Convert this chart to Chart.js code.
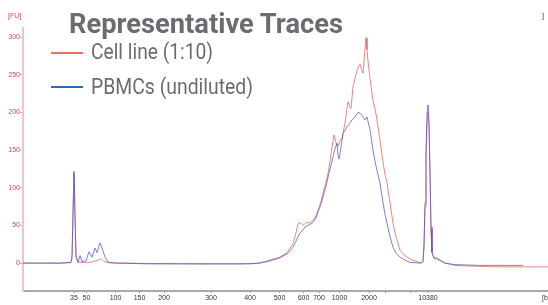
<!DOCTYPE html>
<html>
<head>
<meta charset="utf-8">
<script src="https://cdn.jsdelivr.net/npm/chart.js@4/dist/chart.umd.min.js"></script>
<style>
  html, body { margin: 0; padding: 0; background: #fff; overflow: hidden; }
  #wrap { position: relative; width: 548px; height: 305px; overflow: hidden; }
  canvas { position: absolute; left: 0; top: 0; }
  .t { position: absolute; white-space: nowrap; line-height: 1; transform-origin: 0 0; }
  .title { font-family: Roboto, "Open Sans", sans-serif; font-weight: 700; font-size: 28px; color: #6b6c70; left: 69px; top: 9.7px; }
  .leg { font-family: Roboto, "Open Sans", sans-serif; font-weight: 400; font-size: 22px; color: #6b6c70; left: 91px; }
  .legline { position: absolute; height: 2px; left: 51px; width: 32px; }
  .small { font-family: "Liberation Sans", Arial, sans-serif; font-size: 7px; }
</style>
</head>
<body>
<div id="wrap">
  <canvas id="c" width="548" height="305"></canvas>
  <div class="t title" id="title" data-w="274">Representative Traces</div>
  <div class="legline" style="top:52px;background:#ef6e5e;"></div>
  <div class="t leg" id="leg1" data-w="122" style="top:40.5px;">Cell line (1:10)</div>
  <div class="legline" style="top:86px;background:#2d6cb3;"></div>
  <div class="t leg" id="leg2" data-w="162" style="top:75.8px;">PBMCs (undiluted)</div>
  <div class="t small" style="left:8px;top:12px;color:#d04848;">[FU]</div>
  <div class="t small" style="left:542px;top:12px;color:#333;">]</div>
  <div class="t small" style="left:542px;top:294px;color:#333;">[bp]</div>
</div>
<script>
// x positions are migration-time units; values are fluorescence units [FU]
const TICK_POS    = [30.2, 32.7, 38.5, 43.3, 48.2, 57.6, 65.4, 71.3, 76.1, 79.2, 83.3, 89.2, 92.4, 97.6, 101];
const TICK_LABELS = ['35','50','100','150','200','300','400','500','600','700','1000','2000','','','10380'];

const cellT  = [20,27.4,29.4,29.8,30.0,30.2,30.4,30.6,31.0,33.4,35.0,35.6,36.2,37.4,41.4,45.4,55.4,63.4,67,68.4,69.8,71.4,72.8,74,74.6,75,75.4,76,76.6,77.2,78,78.6,79,79.6,80,80.6,81,81.4,81.8,82.2,82.6,83,83.4,83.8,84.4,84.8,85,85.4,85.6,86,86.4,86.8,87.2,87.4,87.8,88,88.2,88.4,88.6,88.8,89,89.4,89.8,90,90.4,90.8,91.4,92,92.4,92.8,93.4,94,94.4,94.8,95.4,96.2,96.8,97.8,98.8,99.6,100,100.2,100.4,100.6,100.8,101,101.2,101.4,101.6,101.8,102.2,102.8,103.4,104.4,106.4,109.4,115.4,121.4,125];
const cellFU = [0,0,0.5,5,60,120,60,8,1,1,4,6,2,0.5,0,-0.5,-1,-1,0,2,5,8,14,26,40,52,54,50,54,53,57,63,70,82,93,107,119,135,154,170,160,155,162,165,186,205,214,207,205,234,245,256,262,264,255,252,268,285,299,283,268,245,225,216,205,190,163,134,118,106,80,53,40,31,17,11,8,4,2,0,2,22,75,140,185,200,180,115,45,14,6,5,3,0,-3,-4,-5,-5,-5];

const pbmcT  = [20,27.4,29.6,29.8,30.0,30.2,30.4,30.6,31.0,31.4,31.8,32.6,33.2,33.8,34.4,34.8,35.4,35.8,36.4,37,38.4,45.4,55.4,65.4,67.4,69.4,71.4,73,74,74.8,75.4,76,76.4,77,78,78.6,79,79.6,80,80.6,81,81.6,82,82.4,82.8,83,83.2,83.6,84,84.4,84.8,85.4,85.8,86.4,86.8,87,87.4,87.8,88.2,88.4,88.8,89,89.4,90,90.4,90.8,91.4,92,92.4,92.8,93.4,94,94.6,95.4,96.4,97.4,99.4,100,100.2,100.4,100.6,100.8,101,101.2,101.4,101.6,101.8,102.2,102.8,103.4,104.4,106.4,111.4,120];
const pbmcFU = [0,0,1,10,70,122,65,10,1,10,2,3,15,8,20,14,27,20,8,1,0,-1,-1,-1,0,3,7,13,21,32,40,44,48,50,54,60,68,78,88,102,114,130,141,152,159,142,138,154,172,176,181,186,190,194,198,200,199,196,192,190,194,188,177,150,135,123,106,80,65,53,35,21,13,8,4,1,0,2,24,80,150,198,210,188,120,48,15,7,7,4,0,-2,-3,-3];

const toPts = (xs, ys) => xs.map((x, i) => ({ x: x, y: ys[i] }));

new Chart(document.getElementById('c'), {
  type: 'line',
  data: {
    datasets: [
      { label: 'PBMCs (undiluted)', data: toPts(pbmcT, pbmcFU), borderColor: 'rgba(85,85,195,0.75)', borderWidth: 1, pointRadius: 0, tension: 0, fill: false },
      { label: 'Cell line (1:10)', data: toPts(cellT, cellFU), borderColor: 'rgba(222,95,95,0.75)', borderWidth: 1, pointRadius: 0, tension: 0, fill: false }
    ]
  },
  options: {
    responsive: false,
    animation: false,
    layout: { padding: { top: 28, left: 0, right: 0, bottom: 0 } },
    plugins: { legend: { display: false }, tooltip: { enabled: false }, title: { display: false } },
    scales: {
      x: {
        type: 'linear', min: 20, max: 125,
        afterBuildTicks: (s) => { s.ticks = TICK_POS.map(v => ({ value: v })); },
        afterFit: (s) => { s.height = 14; },
        ticks: {
          autoSkip: false, maxRotation: 0, minRotation: 0, padding: 1,
          color: '#333', font: { family: 'Liberation Sans', size: 7 },
          callback: (v, i) => TICK_LABELS[i]
        },
        grid: { display: true, drawOnChartArea: false, drawTicks: true, tickLength: 2, color: '#999' },
        border: { display: true, color: '#aaa', width: 2 }
      },
      y: {
        min: -37, max: 312,
        afterBuildTicks: (s) => { s.ticks = [0,50,100,150,200,250,300].map(v => ({ value: v })); },
        afterFit: (s) => { s.width = 23; },
        ticks: { padding: 0, color: '#d04848', font: { family: 'Liberation Sans', size: 7 } },
        grid: { display: true, drawOnChartArea: false, drawTicks: true, tickLength: 3, color: '#e8a8a8' },
        border: { display: true, color: '#f2c4c4', width: 2 }
      }
    }
  }
});

document.querySelectorAll('[data-w]').forEach(el => {
  const w = el.getBoundingClientRect().width;
  const target = parseFloat(el.dataset.w);
  el.style.transform = 'scaleX(' + (target / w) + ')';
});
</script>
</body>
</html>
